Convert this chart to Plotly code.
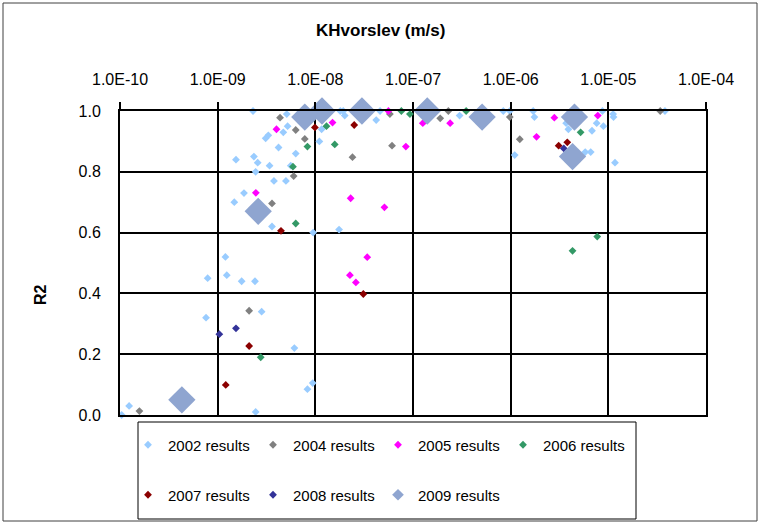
import plotly.graph_objects as go

# ---------------- data ----------------
x2002 = [1.04e-10, 1.24e-10, 7.9e-10, 7.6e-10, 1.2e-9, 1.24e-9, 1.48e-9, 1.54e-9, 1.76e-9, 1.86e-9,
         2.3e-9, 2.35e-9, 2.41e-9, 2.45e-9, 2.57e-9, 2.45e-9, 2.82e-9, 3.1e-9, 3.4e-9, 3.6e-9,
         3.3e-9, 3.77e-9, 4.2e-9, 4.7e-9, 5.0e-9, 5.2e-9, 5.1e-9, 5.6e-9, 6.1e-9, 6.3e-9,
         8.3e-9, 9.4e-9, 9.5e-9, 1.1e-8, 1.16e-8, 1.75e-8, 1.8e-8, 1.93e-8, 2.0e-8, 4.2e-8,
         4.6e-8, 3.0e-7, 8.4e-7, 9.8e-7, 1.1e-6, 1.7e-6, 1.75e-6, 3.9e-6, 3.7e-6, 5.8e-6,
         6.6e-6, 6.8e-6, 7.6e-6, 8.9e-6, 8.7e-6, 1.12e-5, 1.13e-5, 1.17e-5, 3.8e-5]
y2002 = [0.00, 0.03, 0.45, 0.32, 0.52, 0.46, 0.70, 0.84, 0.44, 0.73,
         1.00, 0.85, 0.44, 0.01, 0.83, 0.80, 0.34, 0.91, 0.82, 0.62,
         0.92, 0.77, 0.88, 0.93, 0.77, 0.95, 0.99, 0.82, 0.22, 0.86,
         0.085, 0.105, 0.60, 0.90, 0.94, 0.61, 1.00, 1.00, 0.985, 0.97,
         1.00, 0.985, 1.00, 1.00, 0.855, 1.00, 0.98, 0.94, 0.96, 0.865,
         0.865, 0.935, 0.96, 0.95, 1.00, 0.99, 0.98, 0.83, 1.00]

x2004 = [1.58e-10, 2.1e-9, 3.6e-9, 4.35e-9, 6.0e-9, 6.3e-9, 7.8e-9, 2.4e-8, 5.8e-8, 6.1e-8,
         1.9e-7, 2.3e-7, 9.8e-7, 1.24e-6, 3.4e-5]
y2004 = [0.013, 0.343, 0.696, 0.978, 0.786, 0.9375, 0.908, 0.848, 0.99, 0.886,
         0.976, 1.0, 0.98, 0.907, 1.0]

x2005 = [2.26e-8, 2.6e-8, 2.3e-8, 5.1e-8, 3.4e-8, 2.46e-9, 4.0e-9, 1.5e-8, 5.6e-8, 8.45e-8,
         1.26e-7, 2.4e-7, 2.8e-6, 1.84e-6, 7.8e-6]
y2005 = [0.46, 0.436, 0.713, 0.683, 0.519, 0.731, 0.94, 0.962, 1.0, 0.883,
         0.96, 0.96, 0.978, 0.915, 0.985]

x2006 = [2.76e-9, 6.3e-9, 5.9e-9, 8.3e-9, 1.58e-8, 1.3e-8, 7.6e-8, 9.3e-8, 3.5e-7, 5.2e-6,
         4.3e-6, 7.7e-6]
y2006 = [0.19, 0.63, 0.817, 0.883, 0.89, 0.95, 1.0, 0.99, 1.0, 0.93,
         0.54, 0.587]

x2007 = [1.21e-9, 2.1e-9, 3.1e-8, 4.45e-9, 9.9e-9, 2.5e-8, 3.1e-6, 3.8e-6]
y2007 = [0.099, 0.227, 0.398, 0.606, 0.946, 0.954, 0.886, 0.897]

x2008 = [1.04e-9, 1.54e-9, 3.5e-6]
y2008 = [0.266, 0.285, 0.877]

x2009 = [4.3e-10, 2.6e-9, 7.8e-9, 1.17e-8, 3.0e-8, 1.4e-7, 5.1e-7, 4.5e-6, 4.3e-6]
y2009 = [0.05, 0.67, 0.98, 1.0, 1.0, 1.0, 0.98, 0.98, 0.85]

x_tick_vals = [1e-10, 1e-9, 1e-8, 1e-7, 1e-6, 1e-5, 1e-4]
x_tick_text = ["1.0E-10", "1.0E-09", "1.0E-08", "1.0E-07", "1.0E-06", "1.0E-05", "1.0E-04"]
y_tick_vals = [0.0, 0.2, 0.4, 0.6, 0.8, 1.0]

series = [
    ("2002 results", x2002, y2002, "#99CCFF", "legend"),
    ("2004 results", x2004, y2004, "#808080", "legend"),
    ("2005 results", x2005, y2005, "#FF00FF", "legend"),
    ("2006 results", x2006, y2006, "#339966", "legend"),
    ("2007 results", x2007, y2007, "#8B0000", "legend2"),
    ("2008 results", x2008, y2008, "#333399", "legend2"),
]

FONT = "Liberation Sans, Arial, sans-serif"
W, H = 763, 523
PL, PR, PT, PB = 120, 706, 111, 415  # plot area in px


def px_x(p):
    return (p - PL) / (PR - PL)


def px_y(p):
    return (PB - p) / (PB - PT)


fig = go.Figure()
for name, xs, ys, col, lg in series:
    fig.add_trace(go.Scatter(
        x=xs, y=ys, mode="markers", name=name, legend=lg,
        marker=dict(symbol="diamond", size=6, color=col, line=dict(width=0)),
        cliponaxis=False,
    ))

# 2009 (large diamonds)
fig.add_trace(go.Scatter(
    x=x2009, y=y2009, mode="markers", name="2009 results", legend="legend2",
    marker=dict(symbol="diamond", size=21, color="#8FA5D0", line=dict(width=0)),
    cliponaxis=False, showlegend=False,
))
# legend entry for 2009 with smaller symbol
fig.add_trace(go.Scatter(
    x=[None], y=[None], mode="markers", name="2009 results", legend="legend2",
    marker=dict(symbol="diamond", size=9, color="#8FA5D0", line=dict(width=0)),
))

legend_common = dict(
    orientation="h", xref="container", yref="container",
    xanchor="left", yanchor="middle",
    bgcolor="rgba(0,0,0,0)", borderwidth=0,
    font=dict(family=FONT, size=15, color="#000"),
    entrywidth=80, itemwidth=30,
)

fig.update_layout(
    width=W, height=H,
    margin=dict(l=PL, r=W - PR, t=PT, b=H - PB, autoexpand=False),
    paper_bgcolor="white", plot_bgcolor="white",
    font=dict(family=FONT, size=16, color="#000"),
    legend=dict(x=128 / W, y=1 - 445 / H, **legend_common),
    legend2=dict(x=128 / W, y=1 - 495 / H, **legend_common),
    xaxis=dict(
        type="log", range=[-10, -4], side="top",
        tickmode="array", tickvals=x_tick_vals, ticktext=x_tick_text,
        showgrid=True, gridcolor="#000", gridwidth=2,
        showline=True, linecolor="#000", linewidth=2, mirror=True,
        ticks="outside", ticklen=7, tickcolor="#000", tickwidth=2,
        ticklabelstandoff=11,
        tickfont=dict(family=FONT, size=16, color="#000"),
        zeroline=False,
    ),
    yaxis=dict(
        range=[0, 1],
        tickmode="array", tickvals=y_tick_vals, tickformat=".1f",
        showgrid=True, gridcolor="#000", gridwidth=2,
        showline=True, linecolor="#000", linewidth=2, mirror=True,
        ticks="", ticklabelstandoff=14,
        tickfont=dict(family=FONT, size=16, color="#000"),
        zeroline=False,
    ),
    annotations=[
        dict(text="<b>KHvorslev (m/s)</b>", xref="paper", yref="paper",
             x=px_x(380), y=px_y(30), showarrow=False,
             font=dict(family=FONT, size=17, color="#000"),
             xanchor="center", yanchor="middle"),
        dict(text="<b>R2</b>", xref="paper", yref="paper",
             x=px_x(40), y=px_y(295), showarrow=False, textangle=-90,
             font=dict(family=FONT, size=16, color="#000"),
             xanchor="center", yanchor="middle"),
    ],
    shapes=[
        # chart area border
        dict(type="rect", xref="paper", yref="paper",
             x0=px_x(3), x1=px_x(757), y0=px_y(521), y1=px_y(3),
             line=dict(color="#404040", width=1), fillcolor="rgba(0,0,0,0)", layer="below"),
        # legend border
        dict(type="rect", xref="paper", yref="paper",
             x0=px_x(138), x1=px_x(636), y0=px_y(519), y1=px_y(422),
             line=dict(color="#000", width=1), fillcolor="rgba(0,0,0,0)", layer="below"),
    ],
)

fig.write_html("out.html")
